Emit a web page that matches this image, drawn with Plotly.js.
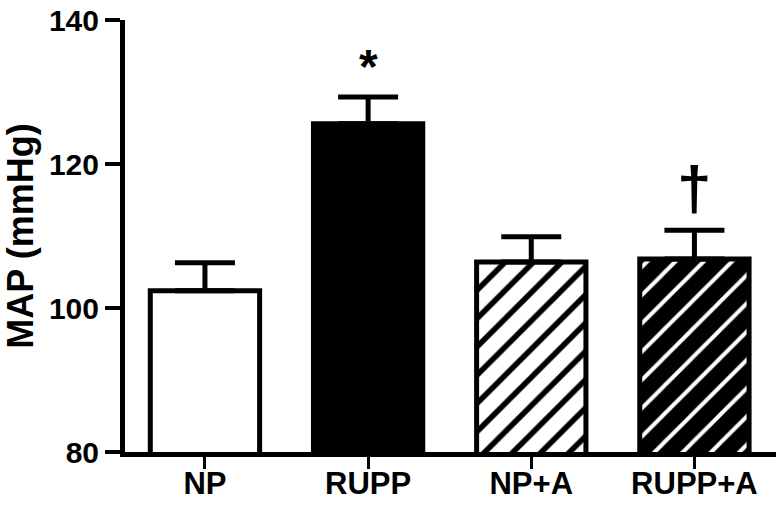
<!DOCTYPE html>
<html>
<head>
<meta charset="utf-8">
<script src="https://cdn.plot.ly/plotly-3.0.1.min.js"></script>
<style>
  html, body { margin: 0; padding: 0; background: #fff; }
  #chart { width: 776px; height: 508px; }
</style>
</head>
<body>
<div id="chart"></div>
<script>
// groups and MAP values
const groups = ["NP", "RUPP", "NP+A", "RUPP+A"];
const mapMean = [102.4, 125.6, 106.4, 106.8];
const mapErr = [3.9, 3.7, 3.5, 4.0];
const marks = ["", "*", "", "†"];

// fill styles
const fillColor = ["#ffffff", "#000000", "#ffffff", "#000000"];
const stripeShape = ["", "", "/", "/"];
const stripeColor = ["#000000", "#000000", "#000000", "#ffffff"];
const stripeSolidity = [0.28, 0.28, 0.28, 0.2];

const font = { family: "Arial, 'Liberation Sans', sans-serif", color: "#000", weight: 700 };

// one trace per group so each bar gets its own pattern
const traces = groups.map((g, i) => ({
  type: "bar",
  x: [g],
  y: [mapMean[i]],
  marker: {
    color: fillColor[i],
    line: { color: "#000", width: 5 },
    pattern: stripeShape[i]
      ? {
          shape: stripeShape[i],
          bgcolor: fillColor[i],
          fgcolor: stripeColor[i],
          size: 20,
          solidity: stripeSolidity[i],
          fillmode: "replace",
        }
      : {},
  },
  error_y: {
    type: "data",
    symmetric: false,
    array: [mapErr[i]],
    arrayminus: [0],
    color: "#000",
    thickness: 5,
    width: 30,
  },
  hoverinfo: "skip",
}));

// significance marks above the error caps
const annotations = [];
groups.forEach((g, i) => {
  if (!marks[i]) return;
  const isStar = marks[i] === "*";
  annotations.push({
    x: g,
    y: mapMean[i] + mapErr[i],
    yanchor: "bottom",
    yshift: isStar ? 2 : 6,
    text: marks[i],
    showarrow: false,
    font: { ...font, size: isStar ? 48 : 62 },
  });
});

const layout = {
  width: 776,
  height: 508,
  margin: { l: 125, r: 0, t: 20, b: 56 },
  paper_bgcolor: "#fff",
  plot_bgcolor: "#fff",
  showlegend: false,
  barmode: "overlay",
  bargap: 0.33,
  font: font,
  xaxis: {
    range: [-0.49, 3.5],
    showline: true,
    linecolor: "#000",
    linewidth: 5,
    ticks: "outside",
    ticklen: 12,
    tickwidth: 3,
    tickcolor: "#000",
    showgrid: false,
    zeroline: false,
    ticklabelstandoff: -12,
    tickfont: { ...font, size: 31 },
  },
  yaxis: {
    range: [80, 140],
    tickvals: [80, 100, 120, 140],
    showline: true,
    linecolor: "#000",
    linewidth: 5,
    ticks: "outside",
    ticklen: 15,
    tickwidth: 4,
    tickcolor: "#000",
    showgrid: false,
    zeroline: false,
    tickfont: { ...font, size: 30 },
    title: { text: "MAP (mmHg)", font: { ...font, size: 36 }, standoff: 14 },
  },
  annotations: annotations,
};

Plotly.newPlot("chart", traces, layout, { displayModeBar: false, staticPlot: true });
</script>
</body>
</html>
